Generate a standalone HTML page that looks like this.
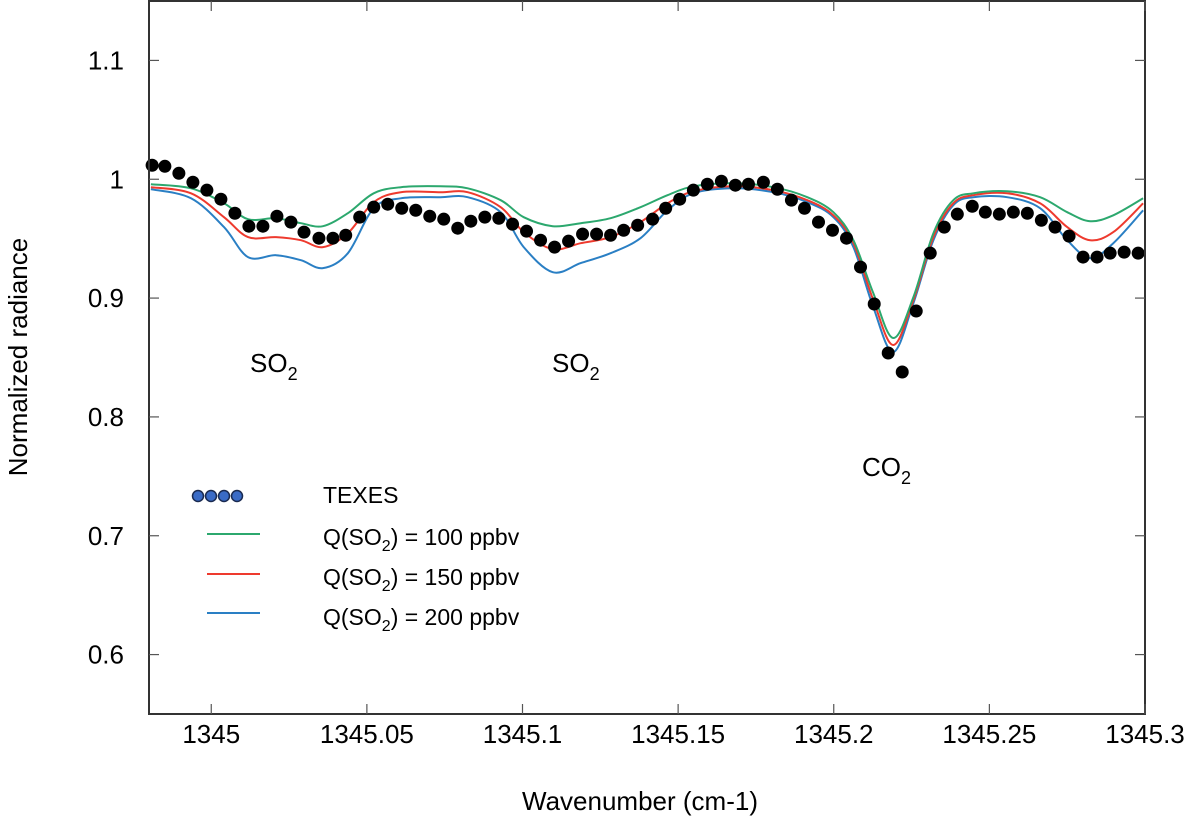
<!DOCTYPE html>
<html><head><meta charset="utf-8"><style>
html,body{margin:0;padding:0;background:#fff;}
svg{display:block;font-family:"Liberation Sans",sans-serif;}
</style></head><body>
<svg id="chart" width="1200" height="818" viewBox="0 0 1200 818">
<g id="curves"></g>
<g id="dots"></g>
<rect x="149" y="1" width="996" height="713" fill="none" stroke="#333" stroke-width="2"/>
<g id="axes"></g>
<text x="18" y="357" transform="rotate(-90 18 357)" text-anchor="middle" dominant-baseline="central" font-size="26">Normalized radiance</text>
<text x="640" y="810" text-anchor="middle" font-size="26">Wavenumber (cm-1)</text>
<text x="250" y="372" font-size="26">SO<tspan font-size="18" dy="8">2</tspan></text>
<text x="552" y="372" font-size="26">SO<tspan font-size="18" dy="8">2</tspan></text>
<text x="862" y="476" font-size="26">CO<tspan font-size="18" dy="8">2</tspan></text>
<g>
  <g>
    <circle cx="198" cy="496" r="5.5" fill="#3a6bc6" stroke="#1a2a50" stroke-width="1.5"/>
    <circle cx="211" cy="496" r="5.5" fill="#3a6bc6" stroke="#1a2a50" stroke-width="1.5"/>
    <circle cx="224" cy="496" r="5.5" fill="#3a6bc6" stroke="#1a2a50" stroke-width="1.5"/>
    <circle cx="237" cy="496" r="5.5" fill="#3a6bc6" stroke="#1a2a50" stroke-width="1.5"/>
    <text x="323" y="503" font-size="23">TEXES</text>
  </g>
  <g>
    <line x1="207" y1="534" x2="260" y2="534" stroke="#2ca86e" stroke-width="2"/>
    <text x="323" y="545" font-size="23">Q(SO<tspan font-size="16" dy="6">2</tspan><tspan dy="-6">) = 100 ppbv</tspan></text>
  </g>
  <g>
    <line x1="207" y1="574" x2="260" y2="574" stroke="#ee3a2e" stroke-width="2"/>
    <text x="323" y="585" font-size="23">Q(SO<tspan font-size="16" dy="6">2</tspan><tspan dy="-6">) = 150 ppbv</tspan></text>
  </g>
  <g>
    <line x1="207" y1="613" x2="260" y2="613" stroke="#2a7fc4" stroke-width="2"/>
    <text x="323" y="625" font-size="23">Q(SO<tspan font-size="16" dy="6">2</tspan><tspan dy="-6">) = 200 ppbv</tspan></text>
  </g>
</g>
</svg>
<script>
const xTicks = [1345, 1345.05, 1345.1, 1345.15, 1345.2, 1345.25, 1345.3];
const xTickLabels = ["1345", "1345.05", "1345.1", "1345.15", "1345.2", "1345.25", "1345.3"];
const yTicks = [0.6, 0.7, 0.8, 0.9, 1.0, 1.1];
const yTickLabels = ["0.6", "0.7", "0.8", "0.9", "1", "1.1"];

const texesX = [1344.9810,1344.9851,1344.9896,1344.9941,1344.9986,1345.0031,1345.0076,1345.0121,1345.0166,1345.0211,1345.0256,1345.0298,1345.0346,1345.0391,1345.0432,1345.0477,1345.0522,1345.0567,1345.0612,1345.0657,1345.0702,1345.0747,1345.0792,1345.0834,1345.0879,1345.0924,1345.0968,1345.1013,1345.1058,1345.1103,1345.1148,1345.1193,1345.1238,1345.1283,1345.1325,1345.1370,1345.1418,1345.1460,1345.1505,1345.1549,1345.1594,1345.1639,1345.1684,1345.1726,1345.1774,1345.1819,1345.1864,1345.1906,1345.1951,1345.1996,1345.2041,1345.2086,1345.2130,1345.2175,1345.2220,1345.2265,1345.2310,1345.2355,1345.2397,1345.2445,1345.2487,1345.2532,1345.2577,1345.2622,1345.2667,1345.2711,1345.2756,1345.2801,1345.2846,1345.2888,1345.2933,1345.2978];
const texesY = [1.0118,1.0109,1.0050,0.9975,0.9908,0.9832,0.9714,0.9605,0.9605,0.9689,0.9639,0.9555,0.9504,0.9504,0.9529,0.9681,0.9765,0.9790,0.9756,0.9739,0.9689,0.9664,0.9588,0.9647,0.9681,0.9672,0.9622,0.9563,0.9487,0.9429,0.9479,0.9538,0.9538,0.9529,0.9571,0.9613,0.9664,0.9756,0.9832,0.9908,0.9958,0.9983,0.9950,0.9958,0.9975,0.9916,0.9824,0.9756,0.9639,0.9571,0.9504,0.9261,0.8950,0.8538,0.8378,0.8891,0.9378,0.9597,0.9706,0.9773,0.9723,0.9706,0.9723,0.9714,0.9655,0.9597,0.9521,0.9345,0.9345,0.9378,0.9387,0.9378];

const modelX = [1344.9806,1344.9935,1345.0041,1345.0118,1345.0208,1345.0288,1345.0359,1345.0439,1345.0522,1345.0609,1345.0737,1345.0824,1345.0930,1345.1004,1345.1097,1345.1187,1345.1283,1345.1379,1345.1466,1345.1549,1345.1678,1345.1806,1345.1915,1345.1999,1345.2063,1345.2127,1345.2191,1345.2256,1345.2320,1345.2384,1345.2448,1345.2557,1345.2663,1345.2750,1345.2824,1345.2898,1345.2994];
const q100 = [0.9958,0.9924,0.9798,0.9664,0.9672,0.9630,0.9605,0.9714,0.9882,0.9933,0.9941,0.9924,0.9824,0.9681,0.9605,0.9630,0.9672,0.9765,0.9866,0.9941,0.9966,0.9933,0.9849,0.9723,0.9487,0.9042,0.8664,0.9008,0.9546,0.9824,0.9882,0.9899,0.9849,0.9723,0.9647,0.9697,0.9840];
const q150 = [0.9933,0.9882,0.9681,0.9513,0.9513,0.9487,0.9429,0.9546,0.9807,0.9891,0.9891,0.9891,0.9765,0.9555,0.9412,0.9462,0.9513,0.9639,0.9798,0.9899,0.9941,0.9908,0.9824,0.9697,0.9462,0.8983,0.8605,0.8983,0.9513,0.9798,0.9866,0.9882,0.9798,0.9597,0.9487,0.9555,0.9798];
const q200 = [0.9916,0.9840,0.9597,0.9345,0.9361,0.9319,0.9252,0.9378,0.9756,0.9840,0.9849,0.9849,0.9723,0.9429,0.9218,0.9294,0.9378,0.9504,0.9739,0.9882,0.9924,0.9891,0.9807,0.9681,0.9429,0.8924,0.8546,0.8958,0.9487,0.9782,0.9849,0.9849,0.9756,0.9487,0.9336,0.9462,0.9739];

const X0 = 1344.98, X1 = 1345.3, PX0 = 149, PX1 = 1145;
const Y0 = 0.55, Y1 = 1.15, PY0 = 714, PY1 = 1;
function sx(v){ return PX0 + (v - X0) / (X1 - X0) * (PX1 - PX0); }
function sy(v){ return PY0 + (v - Y0) / (Y1 - Y0) * (PY1 - PY0); }
const NS = "http://www.w3.org/2000/svg";

const axes = document.getElementById('axes');
xTicks.forEach((t, i) => {
  const x = sx(t);
  const l1 = document.createElementNS(NS, 'line');
  l1.setAttribute('x1', x); l1.setAttribute('x2', x); l1.setAttribute('y1', 714); l1.setAttribute('y2', 704);
  l1.setAttribute('stroke', '#555'); l1.setAttribute('stroke-width', '1.2');
  
  
  axes.appendChild(l1);
  const l2 = document.createElementNS(NS, 'line');
  l2.setAttribute('x1', x); l2.setAttribute('x2', x); l2.setAttribute('y1', 1); l2.setAttribute('y2', 11);
  l2.setAttribute('stroke', '#555'); l2.setAttribute('stroke-width', '1.2');
  
  
  axes.appendChild(l2);
  const tx = document.createElementNS(NS, 'text');
  tx.setAttribute('x', x); tx.setAttribute('y', 743);
  tx.setAttribute('text-anchor', 'middle'); tx.setAttribute('font-size', '26');
  
  
  tx.textContent = xTickLabels[i];
  axes.appendChild(tx);
});
yTicks.forEach((t, i) => {
  const y = sy(t);
  const l1 = document.createElementNS(NS, 'line');
  l1.setAttribute('x1', 149); l1.setAttribute('x2', 159); l1.setAttribute('y1', y); l1.setAttribute('y2', y);
  l1.setAttribute('stroke', '#555'); l1.setAttribute('stroke-width', '1.2');
  
  
  axes.appendChild(l1);
  const l2 = document.createElementNS(NS, 'line');
  l2.setAttribute('x1', 1135); l2.setAttribute('x2', 1145); l2.setAttribute('y1', y); l2.setAttribute('y2', y);
  l2.setAttribute('stroke', '#555'); l2.setAttribute('stroke-width', '1.2');
  
  
  axes.appendChild(l2);
  const tx = document.createElementNS(NS, 'text');
  tx.setAttribute('x', 124); tx.setAttribute('y', y + 9);
  tx.setAttribute('text-anchor', 'end'); tx.setAttribute('font-size', '26');
  
  
  tx.textContent = yTickLabels[i];
  axes.appendChild(tx);
});

function smoothPath(xs, ys){
  const p = xs.map((x, i) => [sx(x), sy(ys[i])]);
  let d = 'M' + p[0][0].toFixed(1) + ',' + p[0][1].toFixed(1);
  for (let i = 0; i < p.length - 1; i++){
    const p0 = p[i - 1] || p[i], p1 = p[i], p2 = p[i + 1], p3 = p[i + 2] || p2;
    const c1 = [p1[0] + (p2[0] - p0[0]) / 6, p1[1] + (p2[1] - p0[1]) / 6];
    const c2 = [p2[0] - (p3[0] - p1[0]) / 6, p2[1] - (p3[1] - p1[1]) / 6];
    d += ' C' + c1[0].toFixed(1) + ',' + c1[1].toFixed(1) + ' ' + c2[0].toFixed(1) + ',' + c2[1].toFixed(1) + ' ' + p2[0].toFixed(1) + ',' + p2[1].toFixed(1);
  }
  return d;
}
const curves = document.getElementById('curves');
[[q200, '#2a7fc4', 'curve-200-ppbv'], [q150, '#ee3a2e', 'curve-150-ppbv'], [q100, '#2ca86e', 'curve-100-ppbv']].forEach(s => {
  const path = document.createElementNS(NS, 'path');
  path.setAttribute('d', smoothPath(modelX, s[0]));
  path.setAttribute('fill', 'none'); path.setAttribute('stroke', s[1]); path.setAttribute('stroke-width', '2');
  
  
  curves.appendChild(path);
});
const dots = document.getElementById('dots');
texesX.forEach((x, i) => {
  const c = document.createElementNS(NS, 'circle');
  c.setAttribute('cx', sx(x)); c.setAttribute('cy', sy(texesY[i])); c.setAttribute('r', '6.5');
  c.setAttribute('fill', '#000');
  
  
  dots.appendChild(c);
});
</script>
</body></html>
